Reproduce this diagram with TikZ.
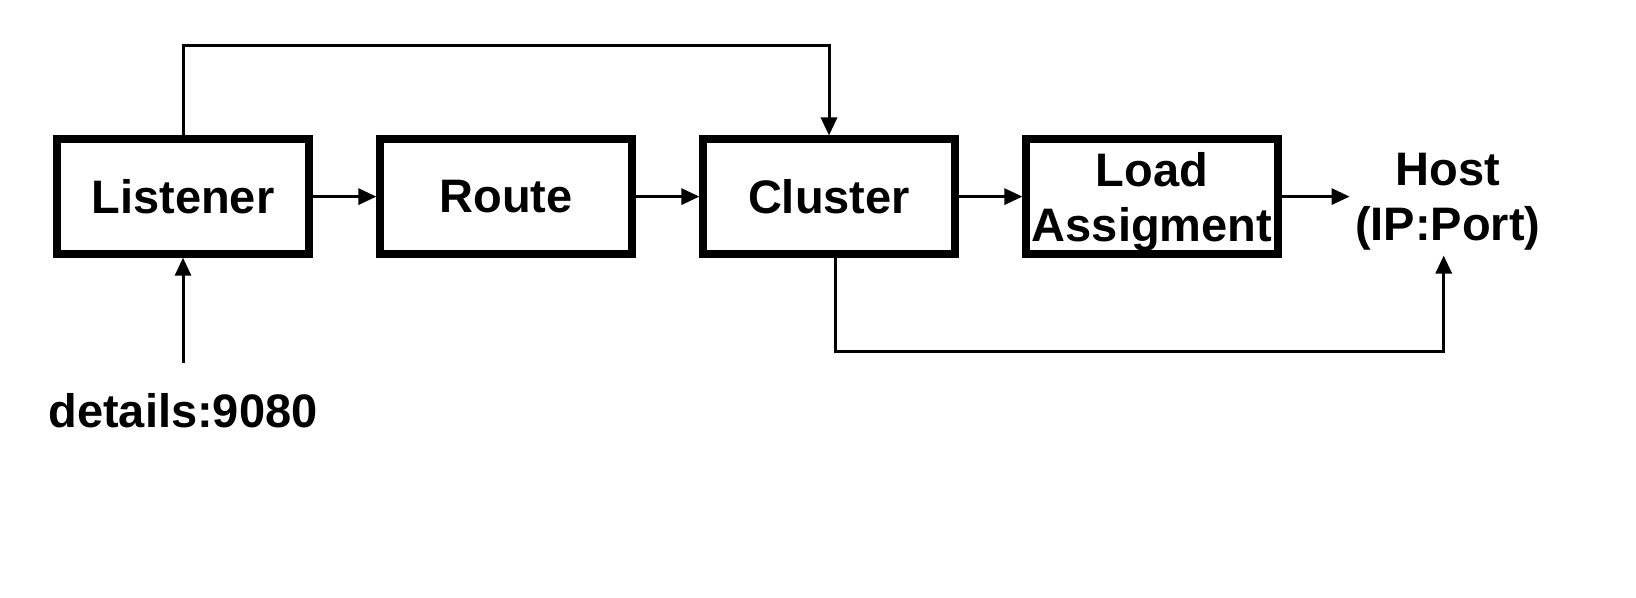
\documentclass[tikz,border=0pt]{standalone}
\usepackage{fontspec}
\setmainfont{Liberation Sans}
\usepackage{tikz}
\usetikzlibrary{arrows.meta,positioning}

\begin{document}
\begin{tikzpicture}
\tikzset{node distance=31.9pt}
\tikzset{block/.style={draw,line width=3.6pt,minimum width=126pt,minimum height=57.5pt,inner sep=0pt,align=center}}
\tikzset{label text/.style={align=center,inner sep=2.5pt}}
\tikzset{link/.style={line width=1.5pt,-{Triangle[length=9pt,width=8pt]}}}

\fontsize{23.5pt}{27.5pt}\selectfont\bfseries

\useasboundingbox (0,0) rectangle (818pt,-299pt);

\node[block] (listener) at (91.5pt,-98.3pt) {Listener};
\node[block,right=of listener] (route) {Route};
\node[block,right=of route] (cluster) {Cluster};
\node[block,right=of cluster] (load) {\rule{0pt}{22pt}Load\\Assigment};
\node[label text,right=34pt of load,yshift=-2.5pt] (host) {Host\\(IP:Port)};
\node[label text,below=65pt of listener] (details) {details:9080};

\draw[link] (listener) -- (route);
\draw[link] (route) -- (cluster);
\draw[link] (cluster) -- (load);
\draw[link] (load.east) -- (load.east -| host.west);
\draw[link] (listener.north) -- ++(0,45pt) -| (cluster.north);
\draw[link] ([xshift=3pt]cluster.south) -- ++(0,-47pt) -| ([xshift=-2pt]host.south);
\draw[link,shorten <=12.5pt] (details) -- (listener);

\end{tikzpicture}
\end{document}
